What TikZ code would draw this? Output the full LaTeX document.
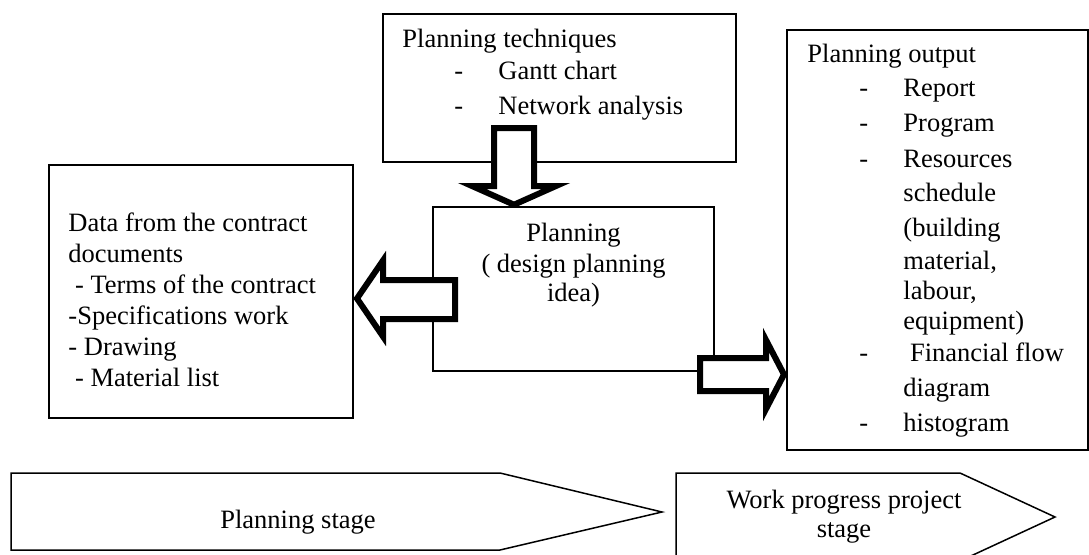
\documentclass[tikz,border=0pt]{standalone}
\usepackage{fontspec}
\setmainfont{Liberation Serif}
\newcommand{\techitem}[1]{\hspace*{52pt}\makebox[44pt][l]{-}#1}
\newcommand{\techcont}[1]{\hspace*{96pt}#1}

\begin{document}
\begin{tikzpicture}[x=1pt, y=-1pt, line join=miter,
    box/.style={draw, line width=1.5pt, inner sep=0pt},
    fatarrow/.style={draw, line width=6pt, fill=white},
    stagebox/.style={draw, line width=1.5pt},
    txt/.style={inner sep=0pt, font=\fontsize{26.5}{31}\selectfont}]
    \useasboundingbox (0,0) rectangle (1089,554);

    % Boxes
    \node[box, minimum width=353pt, minimum height=148pt] (tech) at (559.5,88) {};
    \node[box, minimum width=304pt, minimum height=253pt] (data) at (201,291.5) {};
    \node[box, minimum width=281pt, minimum height=164pt] (plan) at (573.5,289) {};
    \node[box, minimum width=301pt, minimum height=420pt] (output) at (937.5,240) {};

    % Block arrows
    \draw[fatarrow] (494,128) -- (534,128) -- (534,186) -- (556,186) -- (514,204.7)
        -- (472,186) -- (494,186) -- cycle;
    \draw[fatarrow] (455,280) -- (455,319) -- (383,319) -- (383,336.5) -- (357,298.5)
        -- (383,260.5) -- (383,280) -- cycle;
    \draw[fatarrow] (700,358) -- (766,358) -- (766,340) -- (784,374.5) -- (766,409)
        -- (766,391) -- (700,391) -- cycle;

    % Texts (base = last line)
    \node[txt, align=left, anchor=base west] (techtxt) at ([shift={(20,101)}]tech.north west)
        {Planning techniques\\[1pt] \techitem{Gantt chart}\\[4pt] \techitem{Network analysis}};
    \node[txt, align=left, anchor=base west] (datatxt) at ([shift={(20,222)}]data.north west)
        {Data from the contract\\ documents\\ \hspace*{.25em}- Terms of the contract\\
         -Specifications work\\ - Drawing\\ \hspace*{.25em}- Material list};
    \node[txt, align=center, anchor=base] (plantxt) at ([shift={(0,95)}]plan.north)
        {Planning\\ ( design planning\\[-2pt] idea)};
    \node[txt, align=left, anchor=base west] (outtxt) at ([shift={(21,402)}]output.north west)
        {Planning output\\[3pt] \techitem{Report}\\[4pt] \techitem{Program}\\[5pt]
         \techitem{Resources}\\[3pt] \techcont{schedule}\\[4pt] \techcont{(building}\\[2pt]
         \techcont{material,}\\[-1pt] \techcont{labour,}\\[-1pt] \techcont{equipment)}\\[1pt]
         \techitem{\ Financial flow}\\[4pt] \techcont{diagram}\\[4pt] \techitem{histogram}};

    % Stages
    \draw[stagebox] (11,473) -- (500,473) -- (662,512) -- (500,550) -- (11,550) -- cycle;
    \draw[stagebox] (676,473) -- (960,473) -- (1055,517) -- (960,561) -- (676,561) -- cycle;
    \node[txt, anchor=base] (planstage) at (298,528) {Planning stage};
    \node[txt, align=center, anchor=base] (workstage) at (844,537)
        {Work progress project\\[-2pt] stage};
\end{tikzpicture}
\end{document}
